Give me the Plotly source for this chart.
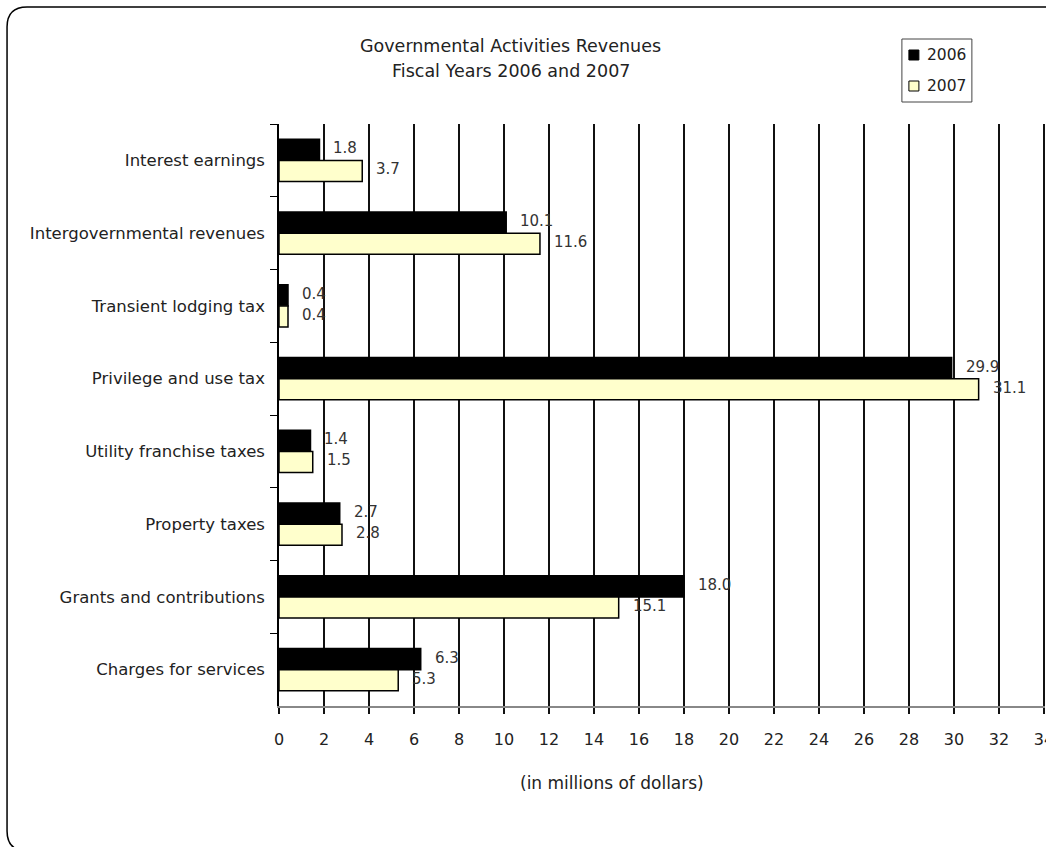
import plotly.graph_objects as go

categories = ["Interest earnings", "Intergovernmental revenues", "Transient lodging tax",
              "Privilege and use tax", "Utility franchise taxes", "Property taxes",
              "Grants and contributions", "Charges for services"]
values_2006 = [1.8, 10.1, 0.4, 29.9, 1.4, 2.7, 18.0, 6.3]
values_2007 = [3.7, 11.6, 0.4, 31.1, 1.5, 2.8, 15.1, 5.3]
series_names = ["2006", "2007"]
series_colors = ["black", "#FFFFCC"]
x_ticks = list(range(0, 35, 2))

W, H = 1046, 847
XMAX = 34.05
L, T, B = 279, 124, 706
R = L + XMAX * 22.5
FONT = "DejaVu Sans"
TXT = "#222"

def px(x):
    return (x - L) / (R - L)

def py(y):
    return (B - y) / (B - T)

fig = go.Figure()
for name, vals, col in zip(series_names, [values_2006, values_2007], series_colors):
    fig.add_trace(go.Bar(y=categories, x=vals, orientation="h", name=name,
                         showlegend=False,
                         marker=dict(color=col, line=dict(color="black", width=1.5))))

for vals, ys in [(values_2006, 12), (values_2007, -9)]:
    for c, v in zip(categories, vals):
        fig.add_annotation(x=v, y=c, xref="x", yref="y", text=f"{v:.1f}", showarrow=False,
                           xanchor="left", yanchor="middle", xshift=12, yshift=ys,
                           font=dict(size=15, color="#333"))

# rounded border
x0, y0, x1, y1, r = 7, 7, 1070, 851, 20
path = (f"M {px(x0+r)},{py(y0)} L {px(x1)},{py(y0)} L {px(x1)},{py(y1)} "
        f"L {px(x0+r)},{py(y1)} Q {px(x0)},{py(y1)} {px(x0)},{py(y1-r)} "
        f"L {px(x0)},{py(y0+r)} Q {px(x0)},{py(y0)} {px(x0+r)},{py(y0)} Z")
fig.add_shape(type="path", path=path, xref="paper", yref="paper",
              line=dict(color="black", width=1.5), layer="below")

# legend (manual)
fig.add_shape(type="rect", xref="paper", yref="paper",
              x0=px(902), x1=px(972), y0=py(39), y1=py(102),
              line=dict(color="#444", width=1), fillcolor="white")
for name, col, cy in zip(series_names, series_colors, [55, 86]):
    fig.add_shape(type="rect", xref="paper", yref="paper",
                  x0=px(909), x1=px(919), y0=py(cy - 5), y1=py(cy + 5),
                  line=dict(color="black", width=1), fillcolor=col)
    fig.add_annotation(x=px(925), y=py(cy), xref="paper", yref="paper", showarrow=False,
                       xanchor="left", yanchor="middle", text=name,
                       font=dict(size=15.5, color=TXT))

fig.add_annotation(x=px(511), y=py(46), xref="paper", yref="paper", showarrow=False,
                   xanchor="center", yanchor="middle",
                   text="Governmental Activities Revenues", font=dict(size=17.5, color=TXT))
fig.add_annotation(x=px(511), y=py(71), xref="paper", yref="paper", showarrow=False,
                   xanchor="center", yanchor="middle",
                   text="Fiscal Years 2006 and 2007", font=dict(size=17.5, color=TXT))
fig.add_annotation(x=px(612), y=py(783), xref="paper", yref="paper", showarrow=False,
                   xanchor="center", yanchor="middle",
                   text="(in millions of dollars)", font=dict(size=17, color=TXT))

fig.update_layout(
    width=W, height=H,
    margin=dict(l=L, r=W - R, t=T, b=H - B, pad=0, autoexpand=False),
    paper_bgcolor="white", plot_bgcolor="white",
    font=dict(family=FONT, size=15, color=TXT),
    barmode="group", bargap=0.42, bargroupgap=0,
    showlegend=False,
    xaxis=dict(range=[0, XMAX], tickvals=x_ticks, showgrid=True, gridcolor="#111",
               gridwidth=1.8, zeroline=False, showline=True, linecolor="#888", linewidth=2,
               ticks="outside", ticklen=6, tickcolor="#111", tickwidth=1.5,
               ticklabelstandoff=12, ticklabeloverflow="allow", automargin=False,
               tickfont=dict(size=16)),
    yaxis=dict(autorange="reversed", showgrid=False, showline=True, linecolor="black",
               linewidth=1.5, ticks="outside", tickson="boundaries", ticklen=7,
               tickcolor="black", tickfont=dict(size=16.5), ticklabelstandoff=9,
               automargin=False),
)

fig.write_html("out.html", config={"displayModeBar": False},
               post_script="document.body.style.margin='0';document.body.style.overflow='hidden';")
